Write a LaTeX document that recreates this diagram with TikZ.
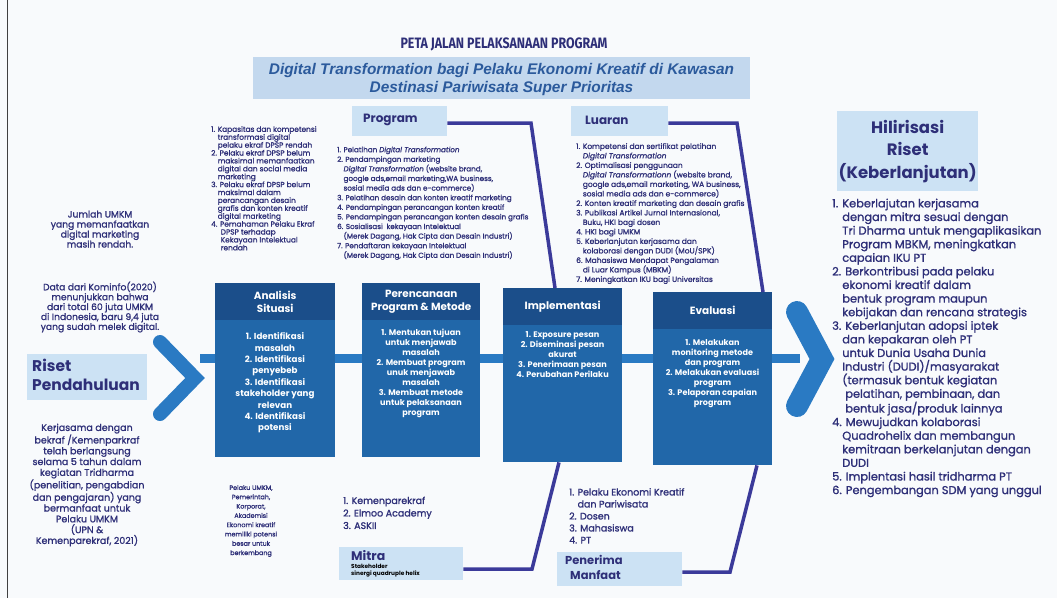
\documentclass[tikz,border=0pt]{standalone}
\usepackage{fontspec}
\usepackage{graphicx}
\setmainfont{Poppins}
\newfontfamily\medfont{Poppins}[FakeBold=1.2]
\newfontfamily\subfont{Liberation Sans}
\newfontfamily\titlefont{Fira Sans}
\usetikzlibrary{calc}
\definecolor{navy}{HTML}{2E2F78}
\definecolor{indigo}{HTML}{3B3A9A}
\definecolor{lightfill}{HTML}{CCE2F4}
\definecolor{subfill}{HTML}{C3D8EE}
\definecolor{hdrfill}{HTML}{1B4E8A}
\definecolor{bodyfill}{HTML}{2167A9}
\definecolor{barblue}{HTML}{2A7AC3}
\definecolor{subtxt}{HTML}{2B5A9C}
\definecolor{bgcol}{HTML}{F8FAFC}
\tikzset{
  txt/.style={inner sep=0pt, text=navy},
  wtxt/.style={inner sep=0pt, text=white, font=\bfseries},
  lbox/.style={fill=lightfill, draw=none, inner sep=0pt, anchor=north west},
  bodybox/.style={fill=bodyfill, draw=none, inner sep=0pt, anchor=north west},
  hdrbox/.style={fill=hdrfill, draw=none, inner sep=0pt, anchor=north west},
  conn/.style={draw=indigo, line width=3.5pt, line join=miter},
  chev/.style={draw=barblue, line cap=round, line join=miter},
}
\newcommand{\ind}{\hphantom{1. }}
\begin{document}
\begin{tikzpicture}[x=1pt,y=-1pt]
\useasboundingbox (0,0) rectangle (1057,598);
\fill[bgcol] (0,0) rectangle (1057,598);
\draw[black!75, line width=0.8pt] (7,0) -- (7,598);

% title
\node[txt] (title) at (504,44.6) {\resizebox{207pt}{10.7pt}{\titlefont\bfseries PETA JALAN PELAKSANAAN PROGRAM}};
\node[fill=subfill, inner sep=0pt, minimum width=497pt, minimum height=42pt] (subbg) at (501.5,78) {};
\node[inner sep=0pt, text=subtxt, align=center, font=\subfont\bfseries\itshape\fontsize{15.4}{18}\selectfont] (sub) at ([yshift=-1.5pt]subbg.center) {Digital Transformation bagi Pelaku Ekonomi Kreatif di Kawasan\\Destinasi Pariwisata Super Prioritas};

% central bar and chevrons
\coordinate (barL) at (200,358.5);
\coordinate (barR) at (800,358.5);
\draw[barblue, line width=9pt] (barL) -- (barR);
\draw[chev, line width=14pt] (160,342) -- (195,378) -- (160,414);
\draw[chev, line width=22pt] (797,312) -- (822,359) -- (797,406);

% process boxes
\node[bodybox, minimum width=120pt, minimum height=174pt] (anal) at (215,283) {};
\node[hdrbox, minimum width=120pt, minimum height=37pt] (analh) at (215,283) {};
\node[bodybox, minimum width=118pt, minimum height=174pt] (pere) at (362,283) {};
\node[hdrbox, minimum width=118pt, minimum height=37pt] (pereh) at (362,283) {};
\node[bodybox, minimum width=119pt, minimum height=174pt] (impl) at (503,288) {};
\node[hdrbox, minimum width=119pt, minimum height=37pt] (implh) at (503,288) {};
\node[bodybox, minimum width=119pt, minimum height=173pt] (eval) at (653,292) {};
\node[hdrbox, minimum width=119pt, minimum height=37pt] (evalh) at (653,292) {};

\node[wtxt, align=center, font=\bfseries\fontsize{10.4}{12.5}\selectfont] at (analh.center) {Analisis\\Situasi};
\node[wtxt, align=center, font=\bfseries\fontsize{10.4}{12.5}\selectfont] at (pereh.center) {Perencanaan\\Program \& Metode};
\node[wtxt, align=center, font=\bfseries\fontsize{10.5}{12.5}\selectfont] at (implh.center) {Implementasi};
\node[wtxt, align=center, font=\bfseries\fontsize{10.5}{12.5}\selectfont] at (evalh.center) {Evaluasi};

\node[wtxt, anchor=north, align=center, font=\bfseries\fontsize{8.7}{11.4}\selectfont] at (275,332.5) {1. Identifikasi\\masalah\\2. Identifikasi\\penyebeb\\3. Identifikasi\\stakeholder yang\\relevan\\4. Identifikasi\\potensi};
\node[wtxt, anchor=north, align=center, font=\bfseries\fontsize{8.1}{10}\selectfont] at (421,329) {1. Mentukan tujuan\\untuk menjawab\\masalah\\2. Membuat program\\unuk menjawab\\masalah\\3. Membuat metode\\untuk pelaksanaan\\program};
\node[wtxt, anchor=north, align=center, font=\bfseries\fontsize{8.1}{10}\selectfont] at (562.5,331) {1. Exposure pesan\\2. Diseminasi pesan\\akurat\\3. Penerimaan pesan\\4. Perubahan Perilaku};
\node[wtxt, anchor=north, align=center, font=\bfseries\fontsize{8.1}{10}\selectfont] at (712.5,339) {1. Melakukan\\monitoring metode\\dan program\\2. Melakukan evaluasi\\program\\3. Pelaporan capaian\\program};

% top labels
\node[lbox, minimum width=95pt, minimum height=30pt] (prog) at (352,106) {};
\node[txt, anchor=west, font=\bfseries\fontsize{12}{14}\selectfont] at (363,120) {Program};
\node[lbox, minimum width=97pt, minimum height=30pt] (lua) at (571,106) {};
\node[txt, anchor=west, font=\bfseries\fontsize{12}{14}\selectfont] at (585,120) {Luaran};

% bottom labels
\node[lbox, minimum width=124pt, minimum height=33pt] (mitra) at (339,547) {};
\node[txt, anchor=west, font=\bfseries\fontsize{12.5}{14}\selectfont] at (351,555.5) {Mitra};
\node[inner sep=0pt, anchor=north west, align=left, font=\bfseries\fontsize{5.8}{7}\selectfont] at (351,563.5) {Stakeholder\\sinergi quadruple helix};
\node[lbox, minimum width=125pt, minimum height=34pt] (pen) at (557,552) {};
\node[txt, anchor=north west, align=left, font=\bfseries\fontsize{11.5}{15}\selectfont] at (565,555) {Penerima\\\hspace*{5pt}Manfaat};

% connectors
\coordinate (pb) at (531,123);
\coordinate (lb) at (737,123);
\coordinate (mb) at (532,569);
\coordinate (nb) at (730,572);
\draw[conn] (prog.east |- pb) -- (pb) -- ([xshift=52pt]impl.north west);
\draw[conn] (lua.east |- lb) -- (lb) -- ([xshift=110pt]eval.north west);
\draw[conn] (mitra.east |- mb) -- (mb) -- ([xshift=56pt]impl.south west);
\draw[conn] (pen.east |- nb) -- (nb) -- ([xshift=104pt]eval.south west);

% lists
\node[txt, anchor=north west, align=left, font=\medfont\fontsize{7.4}{7.9}\selectfont] (probs) at (211,126) {1. Kapasitas dan kompetensi\\\ind transformasi digital\\\ind pelaku ekraf DPSP rendah\\2. Pelaku ekraf DPSP belum\\\ind maksimal memanfaatkan\\\ind digital dan social media\\\ind marketing\\3. Pelaku ekraf DPSP belum\\\ind maksimal dalam\\\ind perancangan desain\\\ind grafis dan konten kreatif\\\ind digital marketing\\4. Pemahaman Pelaku Ekraf\\\ind\hspace*{3pt}DPSP terhadap\\\ind\hspace*{3pt}Kekayaan Intelektual\\\ind\hspace*{3pt}rendah};

\node[txt, anchor=north west, align=left, font=\medfont\fontsize{7.2}{9.6}\selectfont] (proglist) at (337,146.5) {1. Pelatihan \textit{Digital Transformation}\\2. Pendampingan marketing\\\ind\textit{Digital Transformation} (website brand,\\\ind google ads,email marketing,WA business,\\\ind sosial media ads dan e-commerce)\\3. Pelatihan desain dan konten kreatif marketing\\4. Pendampingan perancangan konten kreatif\\5. Pendampingan perancangan konten desain grafis\\6. Sosialisasi~ kekayaan Intelektual\\\ind (Merek Dagang, Hak Cipta dan Desain Industri)\\7. Pendaftaran kekayaan Intelektual\\\ind (Merek Dagang, Hak Cipta dan Desain Industri)};

\node[txt, anchor=north west, align=left, font=\medfont\fontsize{7.5}{9.5}\selectfont] (lualist) at (576,143) {1. Kompetensi dan sertifikat pelatihan\\\ind\textit{Digital Transformation}\\2. Optimalisasi penggunaan\\\ind\textit{Digital Transformationn} (website brand,\\\ind google ads,email marketing, WA business,\\\ind sosial media ads dan e-commerce)\\2. Konten kreatif marketing dan desain grafis\\3. Publikasi Artikel Jurnal Internasional,\\\ind Buku, HKI bagi dosen\\4. HKI bagi UMKM\\5. Keberlanjutan kerjasama dan\\\ind kolaborasi dengan DUDI (MoU/SPK)\\6. Mahasiswa Mendapat Pengalaman\\\ind di Luar Kampus (MBKM)\\7. Meningkatkan IKU bagi Universitas};

\node[txt, anchor=north west, align=left, font=\medfont\fontsize{9.5}{12.5}\selectfont] (mitralist) at (343,496.5) {1. Kemenparekraf\\2. Elmoo Academy\\3. ASKII};
\node[txt, anchor=north, align=center, font=\medfont\fontsize{6.4}{9.3}\selectfont] (stake) at (251,485) {Pelaku UMKM,\\Pemerintah,\\Korporat,\\Akademisi\\Ekonomi kreatif\\memiliki potensi\\besar untuk\\berkembang};
\node[txt, anchor=north west, align=left, font=\medfont\fontsize{9.5}{12}\selectfont] (penlist) at (569,488) {1. Pelaku Ekonomi Kreatif\\\ind dan Pariwisata\\2. Dosen\\3. Mahasiswa\\4. PT};

% left column
\node[txt, anchor=north, align=center, font=\medfont\fontsize{9.2}{10}\selectfont] (lt1) at (100,210.5) {Jumlah UMKM\\yang memanfaatkan\\digital marketing\\masih rendah.};
\node[txt, anchor=north, align=center, font=\medfont\fontsize{9.2}{9.9}\selectfont] (lt2) at (100,281.5) {Data dari Kominfo(2020)\\menunjukkan bahwa\\dari total 60 juta UMKM\\di Indonesia, baru 9,4 juta\\yang sudah melek digital.};
\node[lbox, minimum width=120pt, minimum height=46pt] (riset) at (27,354) {};
\node[txt, anchor=north west, align=left, font=\bfseries\fontsize{15.5}{19.5}\selectfont] at (32,358.5) {Riset\\Pendahuluan};
\node[txt, anchor=north, align=center, font=\medfont\fontsize{9.5}{10.8}\selectfont] (lb1) at (87,423.5) {Kerjasama dengan\\bekraf /Kemenparkraf\\telah berlangsung\\selama 5 tahun dalam\\kegiatan Tridharma\\(penelitian, pengabdian\\dan pengajaran) yang\\bermanfaat untuk\\Pelaku UMKM\\(UPN \&\\Kemenparekraf, 2021)};

% right column
\node[lbox, minimum width=141pt, minimum height=80pt] (hil) at (837,111) {};
\node[txt, align=center, font=\bfseries\fontsize{16.5}{22.5}\selectfont] at (hil.center) {Hilirisasi\\Riset\\(Keberlanjutan)};
\node[txt, anchor=north west, align=left, font=\medfont\fontsize{11.4}{13.6}\selectfont] (hillist) at (832,198.5) {1. Keberlajutan kerjasama\\\ind dengan mitra sesuai dengan\\\ind Tri Dharma untuk mengaplikasikan\\\ind Program MBKM, meningkatkan\\\ind capaian IKU PT\\2. Berkontribusi pada pelaku\\\ind ekonomi kreatif dalam\\\ind bentuk program maupun\\\ind kebijakan dan rencana strategis\\3. Keberlanjutan adopsi iptek\\\ind dan kepakaran oleh PT\\\ind untuk Dunia Usaha Dunia\\\ind Industri (DUDI)/masyarakat\\\ind (termasuk bentuk kegiatan\\\ind\hspace*{3pt}pelatihan, pembinaan, dan\\\ind\hspace*{3pt}bentuk jasa/produk lainnya\\4. Mewujudkan kolaborasi\\\ind Quadrohelix dan membangun\\\ind kemitraan berkelanjutan dengan\\\ind DUDI\\5. Implentasi hasil tridharma PT\\6. Pengembangan SDM yang unggul};
\end{tikzpicture}
\end{document}
